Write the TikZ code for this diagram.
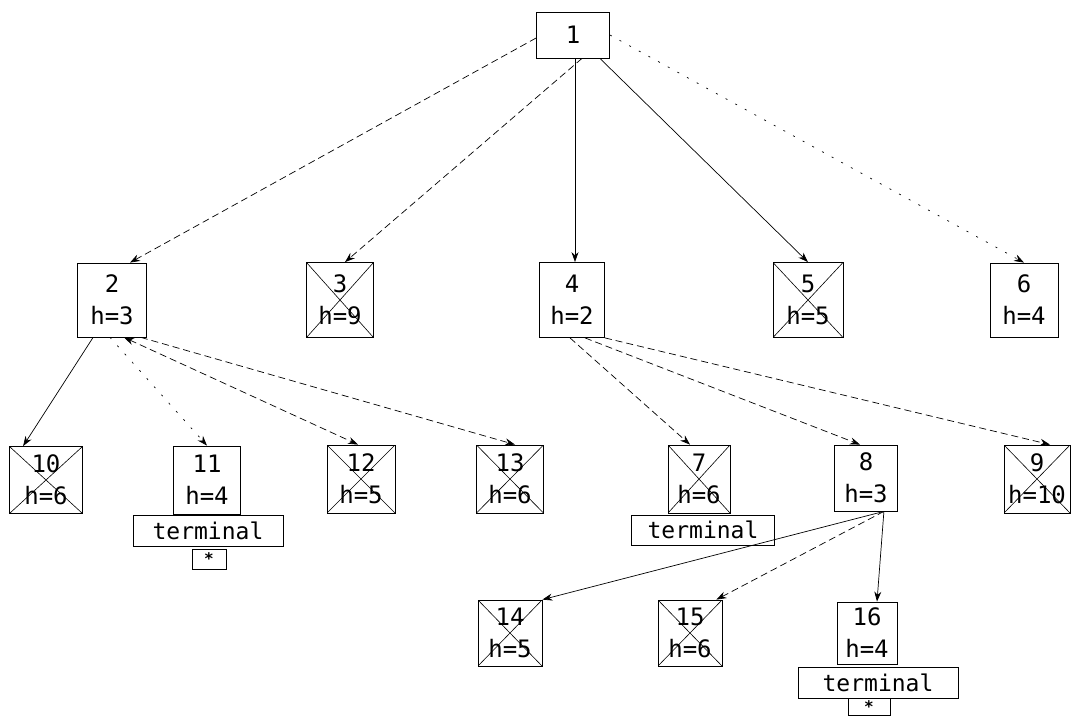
\documentclass[tikz,border=0pt]{standalone}
\usepackage{fontspec}
\setmonofont{DejaVu Sans Mono}
\usetikzlibrary{arrows.meta,calc}
\tikzset{
  box/.style={draw, line width=0.8pt, inner sep=0pt, align=center,
    font=\ttfamily\fontsize{24}{32}\selectfont},
  termbox/.style={draw, line width=0.8pt, inner sep=0pt, align=center,
    font=\ttfamily\fontsize{23}{28}\selectfont},
  starbox/.style={draw, line width=0.8pt, inner sep=0pt, align=center,
    font=\ttfamily\bfseries\fontsize{16}{16}\selectfont},
  pruned/.style={path picture={\draw[line width=0.6pt]
    (path picture bounding box.north west) -- (path picture bounding box.south east)
    (path picture bounding box.north east) -- (path picture bounding box.south west);}},
  edge/.style={line width=0.7pt, -{Stealth[length=10pt,width=7pt]}},
  solidedge/.style={edge},
  dashedge/.style={edge, dash pattern=on 7pt off 4pt},
  dotedge/.style={edge, dash pattern=on 2pt off 9pt},
}
\begin{document}
\begin{tikzpicture}[x=1pt,y=-1pt]
\useasboundingbox (0,0) rectangle (1089,718);
% level 0
\node[box, minimum width=73pt, minimum height=46pt] (n1) at (573,35) {1};
% level 1
\node[box, minimum width=69pt, minimum height=74pt] (n2) at (112,300) {2\\h=3};
\node[box, pruned, minimum width=67pt, minimum height=75pt] (n3) at (340,300) {3\\h=9};
\node[box, minimum width=65pt, minimum height=75pt] (n4) at (572,300) {4\\h=2};
\node[box, pruned, minimum width=70pt, minimum height=75pt] (n5) at (808,300) {5\\h=5};
\node[box, minimum width=68pt, minimum height=74pt] (n6) at (1024,300) {6\\h=4};
% level 2
\node[box, pruned, minimum width=73pt, minimum height=67pt] (n10) at (46,480) {10\\h=6};
\node[box, minimum width=67pt, minimum height=68pt] (n11) at (207,480) {11\\h=4};
\node[termbox, minimum width=150pt, minimum height=31pt] (t11) at (208,531) {terminal};
\node[starbox, minimum width=34pt, minimum height=20pt] (s11) at (209,559) {*};
\node[box, pruned, minimum width=68pt, minimum height=68pt] (n12) at (361,479) {12\\h=5};
\node[box, pruned, minimum width=67pt, minimum height=68pt] (n13) at (510,479) {13\\h=6};
\node[box, pruned, minimum width=62pt, minimum height=68pt] (n7) at (699,479) {7\\h=6};
\node[termbox, minimum width=143pt, minimum height=30pt] (t7) at (703,530) {terminal};
\node[box, minimum width=63pt, minimum height=66pt] (n8) at (866,478) {8\\h=3};
\node[box, pruned, minimum width=66pt, minimum height=68pt] (n9) at (1037,479) {9\\h=10};
% level 3
\node[box, pruned, minimum width=64pt, minimum height=66pt] (n14) at (510,633) {14\\h=5};
\node[box, pruned, minimum width=64pt, minimum height=66pt] (n15) at (690,633) {15\\h=6};
\node[box, minimum width=60pt, minimum height=62pt] (n16) at (867,633) {16\\h=4};
\node[termbox, minimum width=160pt, minimum height=31pt] (t16) at (878,683) {terminal};
\node[starbox, minimum width=42pt, minimum height=17pt] (s16) at (869,707) {*};
% edges from 1
\draw[dashedge] ($(n1.west)+(0,3)$) -- ($(n2.north)+(18,0)$);
\draw[dashedge] ($(n1.south)+(9,0)$) -- ($(n3.north)+(5,0)$);
\draw[solidedge] ($(n1.south)+(2,0)$) -- ($(n4.north)+(3,0)$);
\draw[solidedge] ($(n1.south east)+(-10,0)$) -- (n5.north);
\draw[dotedge] (n1.east) -- (n6.north);
% edges from 2
\draw[solidedge] ($(n2.south west)+(16,0)$) -- ($(n10.north west)+(14,0)$);
\draw[dotedge] ($(n2.south)+(-2,0)$) -- (n11.north);
\draw[dashedge, {Stealth[length=10pt,width=7pt]}-{Stealth[length=10pt,width=7pt]}] ($(n2.south)+(12,0)$) -- ($(n12.north)+(-3,0)$);
\draw[dashedge] ($(n2.south east)+(-6,0)$) -- ($(n13.north)+(5,0)$);
% edges from 4
\draw[dashedge] ($(n4.south)+(-2,0)$) -- ($(n7.north)+(-9,0)$);
\draw[dashedge] ($(n4.south)+(13,0)$) -- ($(n8.north)+(-6,0)$);
\draw[dashedge] (n4.south east) -- ($(n9.north)+(13,0)$);
% edges from 8
\draw[solidedge] ($(n8.south east)+(-14,0)$) -- (n14.north east);
\draw[dashedge] ($(n8.south east)+(-14,0)$) -- ($(n15.north east)+(-6,0)$);
\draw[solidedge] ($(n8.south east)+(-14,0)$) -- ($(n16.north)+(10,0)$);
\end{tikzpicture}
\end{document}
